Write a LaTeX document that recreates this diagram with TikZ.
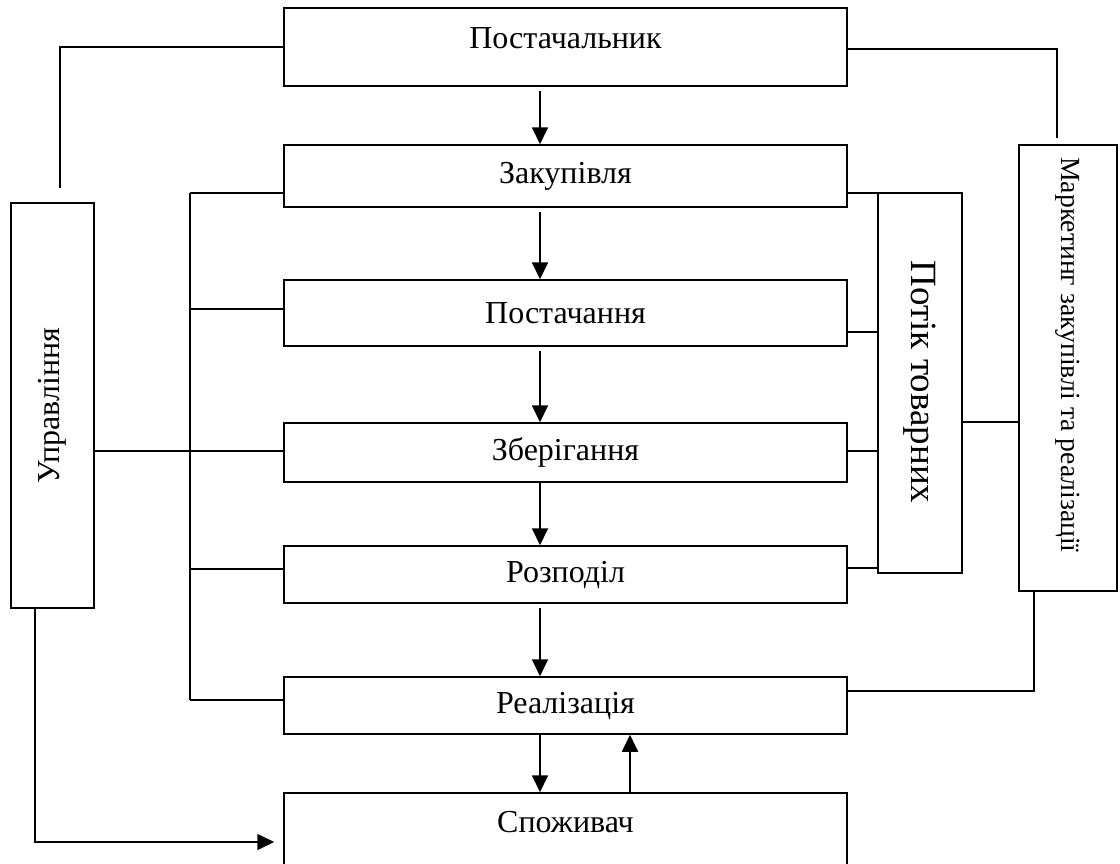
\documentclass[tikz,border=0pt]{standalone}
\usepackage{fontspec}
\setmainfont{Liberation Serif}
\usetikzlibrary{arrows.meta}
\begin{document}
\begin{tikzpicture}[x=1pt,y=-1pt,
  box/.style={draw, line width=1.5pt, minimum width=563pt, inner sep=0pt, font=\fontsize{32}{32}\selectfont},
  lbl/.style={inner sep=0pt, font=\fontsize{32}{32}\selectfont},
  vbox/.style={draw, line width=1.5pt, inner sep=0pt},
  conn/.style={line width=1.1pt},
  tip/.style={-{Triangle[length=17pt,width=16pt]}},
  arr/.style={line width=1.8pt, tip}]
\clip (0,0) rectangle (1120,863);
% main column
\node[box, minimum height=78pt] (sup) at (565.5,47) {};
\node[lbl] (supt) at (565.5,38) {Постачальник};
\node[box, minimum height=62pt] (zak) at (565.5,176) {Закупівля};
\node[box, minimum height=66pt] (pst) at (565.5,313) {Постачання};
\node[box, minimum height=59pt] (zb) at (565.5,452.5) {Зберігання};
\node[box, minimum height=57pt] (roz) at (565.5,574.5) {Розподіл};
\node[box, minimum height=57pt] (real) at (565.5,705.5) {Реалізація};
\node[box, minimum height=82pt] (spo) at (565.5,834) {};
\node[lbl] (spot) at (565.5,822) {Споживач};
% side boxes
\node[vbox, minimum width=83pt, minimum height=405pt] (upr) at (52.5,405.5) {};
\node[lbl, rotate=90] (uprt) at (upr.center) {Управління};
\node[vbox, minimum width=84pt, minimum height=380pt] (pot) at (920,383) {};
\node[rotate=-90, font=\fontsize{37}{37}\selectfont, inner sep=0pt] (pott) at (920,382) {Потік товарних};
\node[vbox, minimum width=98pt, minimum height=446pt] (mark) at (1068,368) {};
\node[rotate=-90, font=\fontsize{27.7}{28}\selectfont, inner sep=0pt] (markt) at (1068,355) {Маркетинг закупівлі та реалізації};
% helper coordinates
\coordinate (ax) at (540,0);
\coordinate (ax2) at (630,0);
\coordinate (c1) at (60,0);
\coordinate (b1) at (190,193);
\coordinate (b2) at (190,309);
\coordinate (b4) at (190,569);
\coordinate (b5) at (190,700);
\coordinate (r1) at (0,193);
\coordinate (r2) at (0,332);
\coordinate (r3) at (0,451);
\coordinate (r4) at (0,568);
\coordinate (m1) at (0,422);
\coordinate (s1) at (0,49);
\coordinate (s2) at (1057,0);
\coordinate (s3) at (1034,0);
\coordinate (s4) at (0,691);
\coordinate (u1) at (35,0);
\coordinate (u2) at (0,842);
% vertical arrows
\draw[arr, shorten <=4pt] (sup.south -| ax) -- (zak.north -| ax);
\draw[arr, shorten <=4pt] (zak.south -| ax) -- (pst.north -| ax);
\draw[arr, shorten <=4pt] (pst.south -| ax) -- (zb.north -| ax);
\draw[arr] (zb.south -| ax) -- (roz.north -| ax);
\draw[arr, shorten <=4pt] (roz.south -| ax) -- (real.north -| ax);
\draw[arr] (real.south -| ax) -- (spo.north -| ax);
\draw[arr] (spo.north -| ax2) -- (real.south -| ax2);
% management links
\draw[conn, shorten <=14pt] (upr.north -| c1) |- (sup.west);
\draw[conn] (upr.east |- r3) -- (zb.west |- r3);
\draw[conn] (b1) -- (b5);
\draw[conn] (b1) -- (zak.west |- b1);
\draw[conn] (b2) -- (pst.west |- b2);
\draw[conn] (b4) -- (roz.west |- b4);
\draw[conn] (b5) -- (real.west |- b5);
\draw[line width=1.5pt, tip, shorten >=9pt] (upr.south -| u1) |- (spo.west |- u2);
% goods flow links
\draw[conn] (zak.east |- r1) -- (pot.west |- r1);
\draw[conn] (pst.east |- r2) -- (pot.west |- r2);
\draw[conn] (zb.east |- r3) -- (pot.west |- r3);
\draw[conn] (roz.east |- r4) -- (pot.west |- r4);
\draw[conn] (pot.east |- m1) -- (mark.west |- m1);
% marketing links
\draw[conn, shorten >=6pt] (sup.east |- s1) -| (mark.north -| s2);
\draw[conn] (mark.south -| s3) |- (real.east |- s4);
\end{tikzpicture}
\end{document}
